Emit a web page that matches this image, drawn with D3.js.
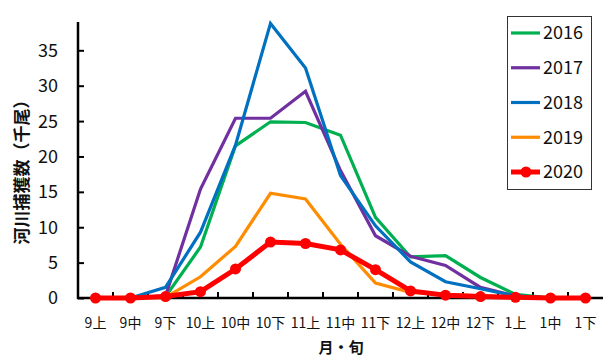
<!DOCTYPE html>
<html>
<head>
<meta charset="utf-8">
<script src="https://cdn.jsdelivr.net/npm/d3@7.9.0/dist/d3.min.js"></script>
<style>
  html, body { margin: 0; padding: 0; background: #fff; }
  #chart { width: 604px; height: 358px; }
  text { font-family: 'Noto Sans CJK JP', 'DejaVu Sans', sans-serif; }
</style>
</head>
<body>
<div id="chart"></div>
<script>
const categories = ['9上', '9中', '9下', '10上', '10中', '10下', '11上', '11中', '11下', '12上', '12中', '12下', '1上', '1中', '1下'];

const v2016 = [0, 0, 0.2, 7.2, 21.5, 24.9, 24.8, 23.0, 11.4, 5.8, 6.0, 2.9, 0.5, 0, 0];
const v2017 = [0, 0, 0.3, 15.4, 25.4, 25.4, 29.2, 18.0, 8.8, 5.9, 4.6, 1.5, 0.3, 0, 0];
const v2018 = [0, 0, 1.5, 9.3, 21.6, 38.8, 32.5, 17.3, 10.2, 5.1, 2.3, 1.3, 0.3, 0, 0];
const v2019 = [0, 0, 0.1, 3.0, 7.3, 14.8, 14.0, 7.6, 2.1, 0.8, 0.5, 0.3, 0.1, 0, 0];
const v2020 = [0, 0, 0.2, 0.9, 4.1, 7.9, 7.7, 6.8, 4.0, 1.0, 0.4, 0.2, 0.1, 0, 0];

const yTicks = [0, 5, 10, 15, 20, 25, 30, 35];

const series = [
  { name: '2016', values: v2016, color: '#00b050', width: 3.2, marker: false },
  { name: '2017', values: v2017, color: '#7030a0', width: 3.2, marker: false },
  { name: '2018', values: v2018, color: '#0070c0', width: 3.2, marker: false },
  { name: '2019', values: v2019, color: '#ff8c00', width: 3.2, marker: false },
  { name: '2020', values: v2020, color: '#ff0000', width: 5, marker: true },
];

const width = 604, height = 358;
const plot = { left: 78, right: 603, top: 22, bottom: 298 };

const svg = d3.select('#chart').append('svg')
  .attr('width', width)
  .attr('height', height);

const x = d3.scaleBand()
  .domain(categories)
  .range([plot.left, plot.right]);

const y = d3.scaleLinear()
  .domain([0, 39])
  .range([plot.bottom, plot.top]);

// y axis ticks (drawn inside the plot)
const yAxis = svg.append('g')
  .attr('transform', `translate(${plot.left},0)`)
  .call(d3.axisRight(y).tickValues(yTicks).tickSize(6).tickFormat(''));
yAxis.select('.domain').remove();
yAxis.selectAll('.tick line').attr('stroke', '#000').attr('stroke-width', 2);

svg.append('g').selectAll('text')
  .data(yTicks)
  .enter()
  .append('text')
  .attr('x', plot.left - 20)
  .attr('y', (d) => y(d))
  .attr('dy', '0.36em')
  .attr('text-anchor', 'end')
  .attr('font-size', 18)
  .attr('fill', '#111')
  .text((d) => d);

// x axis ticks between categories
const xBounds = categories.slice(1).map((c) => x(c));
svg.append('g').selectAll('line')
  .data(xBounds)
  .enter()
  .append('line')
  .attr('x1', (d) => d)
  .attr('x2', (d) => d)
  .attr('y1', plot.bottom)
  .attr('y2', plot.bottom - 6)
  .attr('stroke', '#000')
  .attr('stroke-width', 2);

svg.append('g').selectAll('text')
  .data(categories)
  .enter()
  .append('text')
  .attr('x', (d) => x(d) + x.bandwidth() / 2)
  .attr('y', 322.5)
  .attr('dy', '0.36em')
  .attr('text-anchor', 'middle')
  .attr('font-size', 14)
  .attr('fill', '#111')
  .text((d) => d);

// axis lines
svg.append('line')
  .attr('x1', plot.left).attr('x2', plot.left)
  .attr('y1', plot.top).attr('y2', plot.bottom + 1)
  .attr('stroke', '#000').attr('stroke-width', 2.5);
svg.append('line')
  .attr('x1', plot.left - 1).attr('x2', plot.right)
  .attr('y1', plot.bottom).attr('y2', plot.bottom)
  .attr('stroke', '#000').attr('stroke-width', 2.5);

// lines
const line = d3.line()
  .x((d, i) => x(categories[i]) + x.bandwidth() / 2)
  .y((d) => y(d));

series.forEach((s) => {
  svg.append('path')
    .datum(s.values)
    .attr('fill', 'none')
    .attr('stroke', s.color)
    .attr('stroke-width', s.width)
    .attr('stroke-linejoin', 'miter')
    .attr('d', line);
  if (s.marker) {
    svg.append('g').selectAll('circle')
      .data(s.values)
      .enter()
      .append('circle')
      .attr('cx', (d, i) => x(categories[i]) + x.bandwidth() / 2)
      .attr('cy', (d) => y(d))
      .attr('r', 5.5)
      .attr('fill', s.color);
  }
});

// axis titles
svg.append('text')
  .attr('transform', `translate(22,${(plot.top + plot.bottom) / 2 + 8}) rotate(-90)`)
  .attr('text-anchor', 'middle')
  .attr('dy', '0.36em')
  .attr('font-size', 17)
  .attr('font-weight', 'bold')
  .attr('fill', '#111')
  .text('河川捕獲数（千尾）');

svg.append('text')
  .attr('x', 341)
  .attr('y', 348)
  .attr('dy', '0.36em')
  .attr('text-anchor', 'middle')
  .attr('font-size', 15)
  .attr('font-weight', 'bold')
  .attr('fill', '#111')
  .text('月・旬');

// legend
const legend = svg.append('g');
legend.append('rect')
  .attr('x', 507.5).attr('y', 16.5)
  .attr('width', 84).attr('height', 173)
  .attr('fill', '#fff')
  .attr('stroke', '#333')
  .attr('stroke-width', 1);

const ly = d3.scalePoint()
  .domain(series.map((s) => s.name))
  .range([33, 172]);

series.forEach((s) => {
  const g = legend.append('g').attr('transform', `translate(0,${ly(s.name)})`);
  g.append('line')
    .attr('x1', 511).attr('x2', 540)
    .attr('stroke', s.color)
    .attr('stroke-width', s.width);
  if (s.marker) {
    g.append('circle').attr('cx', 526).attr('cy', 0).attr('r', 5.5).attr('fill', s.color);
  }
  g.append('text')
    .attr('x', 543)
    .attr('dy', '0.36em')
    .attr('font-size', 18)
    .attr('fill', '#111')
    .text(s.name);
});
</script>
</body>
</html>
